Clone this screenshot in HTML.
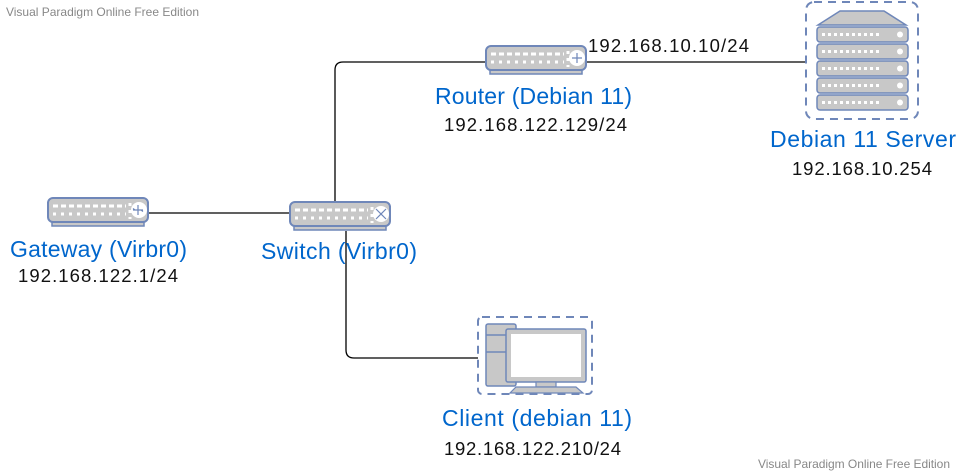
<!DOCTYPE html>
<html><head><meta charset="utf-8"><style>
html,body{margin:0;padding:0;background:#fff;width:956px;height:473px;overflow:hidden}
svg{display:block}
text{font-family:"Liberation Sans",sans-serif}
.b{fill:#0066cc;font-size:23px}
.k{fill:#111;font-size:18.5px}
</style></head><body>
<svg width="956" height="473" viewBox="0 0 956 473" xmlns="http://www.w3.org/2000/svg">
<defs>
<g id="dev">
<rect x="4" y="22" width="92" height="6" fill="#c8c8c8" stroke="#6f87b9" stroke-width="1.5"/>
<rect x="0" y="0" width="100" height="24" rx="5" fill="#c8c8c8" stroke="#6f87b9" stroke-width="2"/>
<line x1="5" y1="8" x2="78" y2="8" stroke="#fff" stroke-width="3" stroke-dasharray="5,3"/>
<line x1="5" y1="16" x2="78" y2="16" stroke="#fff" stroke-width="3" stroke-dasharray="3,5"/>
<line x1="82" y1="5" x2="82" y2="21" stroke="#fff" stroke-width="3" stroke-dasharray="3,4"/>
<circle cx="91" cy="12" r="8" fill="#fff"/>
</g>
</defs>
<text x="6" y="16" font-size="12" fill="#888" textLength="193">Visual Paradigm Online Free Edition</text>
<text x="758" y="468" font-size="12" fill="#888" textLength="192">Visual Paradigm Online Free Edition</text>

<g stroke="#000" stroke-width="1.3" fill="none">
<line x1="148" y1="213" x2="290" y2="213"/>
<path d="M335 202 V70 Q335 62 343 62 H486"/>
<line x1="586" y1="62" x2="806" y2="62"/>
<path d="M346 231 V350 Q346 358 354 358 H478"/>
</g>

<use href="#dev" x="48" y="198"/>
<g stroke="#6f87b9" stroke-width="1.2" fill="none"><path d="M133 210h10M138 205v10M135 210l-2 -1.5M141 210l2 1.5"/></g>
<use href="#dev" x="290" y="202"/>
<g stroke="#6f87b9" stroke-width="1.2"><path d="M376 209l10 10M386 209l-10 10"/></g>
<use href="#dev" x="486" y="46"/>
<g stroke="#6f87b9" stroke-width="1.2"><path d="M572 58h10M577 53v10"/></g>

<rect x="806" y="2" width="112" height="117" rx="8" fill="none" stroke="#6f87b9" stroke-width="2" stroke-dasharray="8,6"/>
<path d="M818 25 L840 11 H884 L906 25 Z" fill="#c8c8c8" stroke="#6f87b9" stroke-width="1.5"/>
<g fill="#c8c8c8" stroke="#6f87b9" stroke-width="1.5">
<rect x="817" y="27" width="91" height="15" rx="3"/>
<rect x="817" y="44" width="91" height="15" rx="3"/>
<rect x="817" y="61" width="91" height="15" rx="3"/>
<rect x="817" y="78" width="91" height="15" rx="3"/>
<rect x="817" y="95" width="91" height="15" rx="3"/>
</g>
<g stroke="#fff" stroke-width="3" stroke-dasharray="3,3">
<path d="M822 34.5h57M822 51.5h57M822 68.5h57M822 85.5h57M822 102.5h57"/>
</g>
<g fill="#fff"><circle cx="900" cy="34.5" r="3"/><circle cx="900" cy="51.5" r="3"/><circle cx="900" cy="68.5" r="3"/><circle cx="900" cy="85.5" r="3"/><circle cx="900" cy="102.5" r="3"/></g>

<rect x="478" y="317" width="114" height="77" rx="4" fill="none" stroke="#6f87b9" stroke-width="2" stroke-dasharray="8,6"/>
<rect x="486" y="324" width="30" height="62" rx="2" fill="#c8c8c8" stroke="#6f87b9" stroke-width="1.5"/>
<path d="M486 335h20M486 352h20" stroke="#6f87b9" stroke-width="1.5"/>
<rect x="506" y="329" width="80" height="53" rx="2" fill="#c8c8c8" stroke="#6f87b9" stroke-width="1.5"/>
<rect x="511" y="334" width="70" height="43" fill="#fff"/>
<rect x="536" y="382" width="20" height="5" fill="#c8c8c8" stroke="#6f87b9" stroke-width="1.2"/>
<path d="M516 387 H576 L583 393 H510 Z" fill="#c8c8c8" stroke="#6f87b9" stroke-width="1.2"/>

<text class="b" x="10" y="257" textLength="177">Gateway (Virbr0)</text>
<text class="k" x="18" y="282" textLength="160">192.168.122.1/24</text>
<text class="b" x="261" y="259" textLength="156">Switch (Virbr0)</text>
<text class="b" x="435" y="104" textLength="197">Router (Debian 11)</text>
<text class="k" x="444" y="131" textLength="183">192.168.122.129/24</text>
<text class="k" x="588" y="52" textLength="161">192.168.10.10/24</text>
<text class="b" x="770" y="147" textLength="186">Debian 11 Server</text>
<text class="k" x="792" y="175" textLength="140">192.168.10.254</text>
<text class="b" x="442" y="426" textLength="190">Client (debian 11)</text>
<text class="k" x="444" y="455" textLength="177">192.168.122.210/24</text>
</svg>
</body></html>
